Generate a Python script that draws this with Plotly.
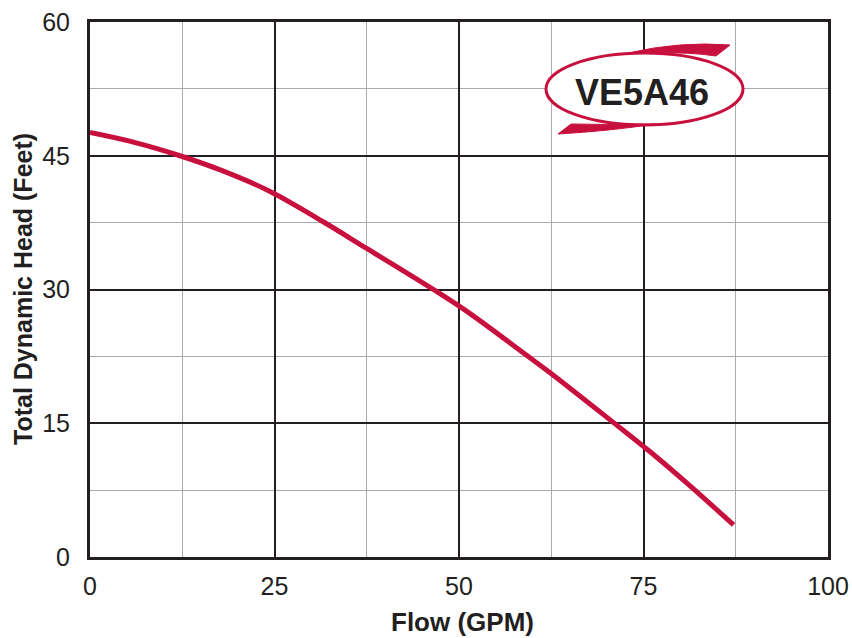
import plotly.graph_objects as go

flow = [0, 6, 12.2, 18, 24.4, 31.6, 37.5, 47, 51.5, 59.2, 62.3, 70.9, 75.9, 81, 87.2]
head = [47.6, 46.5, 45.0, 43.3, 41.0, 37.6, 34.6, 29.75, 27.3, 22.6, 20.7, 15.1, 11.8, 8.2, 3.6]

x_ticks = [0, 25, 50, 75, 100]
y_ticks = [0, 15, 30, 45, 60]
model_label = "VE5A46"
x_title = "Flow (GPM)"
y_title = "Total Dynamic Head (Feet)"

RED = "#C8103E"
INK = "#231F20"
FONT = "Liberation Sans, Arial, Helvetica, sans-serif"
L, R, T, B = 90, 828, 22, 557

def px(xp, yp):
    return (xp - L) / (R - L) * 100, (B - yp) / (B - T) * 60

def paper(xp, yp):
    return (xp - L) / (R - L), (B - yp) / (B - T)

def path(pts):
    s = ""
    for cmd, coords in pts:
        s += cmd
        for (a, b) in coords:
            dx, dy = px(a, b)
            s += f" {dx:.3f},{dy:.3f}"
        s += " "
    return s + "Z"

fig = go.Figure()
fig.add_trace(go.Scatter(x=flow, y=head, mode="lines",
                         line=dict(color=RED, width=5, shape="spline", smoothing=1.0),
                         hoverinfo="skip", showlegend=False))

# logo ellipse
x0, y0 = px(546, 53)
x1, y1 = px(743, 125)
fig.add_shape(type="circle", xref="x", yref="y", x0=x0, y0=y1, x1=x1, y1=y0,
              line=dict(color=RED, width=3), fillcolor="white", layer="above")
# swooshes
top = path([("M", [(628, 53)]), ("Q", [(680, 41), (730, 45)]), ("L", [(716, 56)]), ("Q", [(690, 52), (655, 53)])])
bot = path([("M", [(558, 134)]), ("L", [(571, 124)]), ("Q", [(615, 125), (655, 124)]), ("Q", [(610, 131), (558, 134)])])
for p in (top, bot):
    fig.add_shape(type="path", xref="x", yref="y", path=p, fillcolor=RED, line=dict(color=RED, width=1), layer="above")
tx, ty = px(642, 92)
fig.add_annotation(x=tx, y=ty, xref="x", yref="y", text=f"<b>{model_label}</b>", showarrow=False,
                   font=dict(family=FONT, size=36, color=INK))

# axis titles
ax, ay = paper(462, 622)
fig.add_annotation(x=ax, y=ay, xref="paper", yref="paper", text=f"<b>{x_title}</b>", showarrow=False,
                   font=dict(family=FONT, size=26, color=INK), xanchor="center", yanchor="middle")
bx, by = paper(23, 289)
fig.add_annotation(x=bx, y=by, xref="paper", yref="paper", text=f"<b>{y_title}</b>", showarrow=False,
                   textangle=-90, font=dict(family=FONT, size=25, color=INK), xanchor="center", yanchor="middle")

axis_common = dict(showline=True, mirror=True, linecolor=INK, linewidth=3,
                   showgrid=True, gridcolor=INK, gridwidth=2, zeroline=False,
                   ticks="outside", tickcolor="rgba(0,0,0,0)",
                   tickfont=dict(family=FONT, size=25, color=INK),
                   automargin=False, fixedrange=True)
fig.update_xaxes(range=[0, 100], tickvals=x_ticks, ticktext=[str(v) for v in x_ticks], ticklen=5,
                 minor=dict(dtick=12.5, tick0=0, showgrid=True, gridcolor="#AAAAAA", gridwidth=1, ticks=""),
                 **axis_common)
fig.update_yaxes(range=[0, 60], tickvals=y_ticks, ticktext=[str(v) for v in y_ticks], ticklen=12,
                 minor=dict(dtick=7.5, tick0=0, showgrid=True, gridcolor="#AAAAAA", gridwidth=1, ticks=""),
                 **axis_common)
fig.update_layout(width=852, height=638, margin=dict(l=L, r=852 - R, t=T, b=638 - B),
                  paper_bgcolor="white", plot_bgcolor="white", showlegend=False)
fig.write_html("out.html", config={"displayModeBar": False},
               post_script="document.body.style.margin='0';document.body.style.overflow='hidden';")
